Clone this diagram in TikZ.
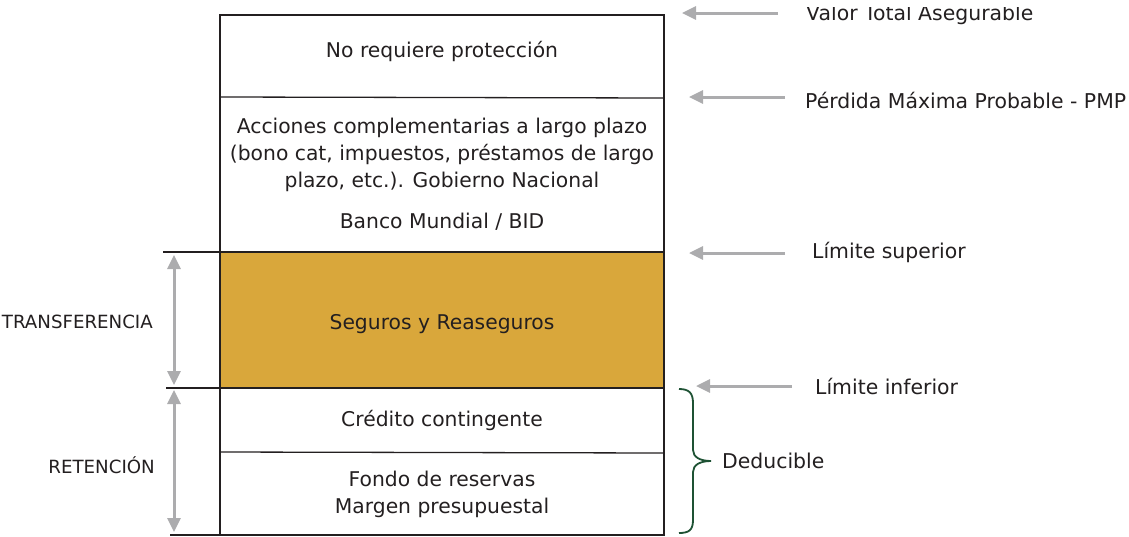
\documentclass[tikz,border=0pt]{standalone}
\usepackage{fontspec}
\setmainfont{DejaVu Sans}
\usetikzlibrary{arrows.meta}
\definecolor{oro}{RGB}{217,167,59}
\definecolor{gris}{RGB}{172,172,174}
\definecolor{verde}{RGB}{30,82,52}
\definecolor{tinta}{RGB}{35,31,32}
\begin{document}
\begin{tikzpicture}[x=1pt,y=-1pt,
    txt/.style={font=\fontsize{20.3}{27}\selectfont,text=tinta,align=center,inner sep=0pt},
    lado/.style={font=\fontsize{18.2}{20}\selectfont,text=tinta,anchor=east,inner sep=0pt},
    etiq/.style={font=\fontsize{20.4}{24}\selectfont,text=tinta,anchor=base west,inner sep=0pt},
    borde/.style={tinta,line width=1.3pt},
    flecha/.style={gris,line width=3pt,-{Triangle[length=14pt,width=13pt]}},
    doble/.style={gris,line width=3pt,{Triangle[length=14pt,width=13pt]}-{Triangle[length=14pt,width=13pt]}}]
    \useasboundingbox (0,0) rectangle (1129,536);
    \fill[oro] (220,252) rectangle (664,388);
    \draw[borde] (220,15) rectangle (664,535);
    \draw[borde] (220,97) -- (664,98);
    \draw[borde] (163,252) -- (664,252);
    \draw[borde] (166,388) -- (664,388);
    \draw[borde] (220,452) -- (664,453);
    \draw[borde] (170,535) -- (220,535);
    \node[txt] (nrp) at (442,51) {No requiere protección};
    \node[txt] (acc) at (442,155) {Acciones complementarias a largo plazo\\(bono cat, impuestos, préstamos de largo\\plazo, etc.). Gobierno Nacional};
    \node[txt] (bm) at (442,222) {Banco Mundial / BID};
    \node[txt] (syr) at (442,324) {Seguros y Reaseguros};
    \node[txt] (cc) at (442,420) {Crédito contingente};
    \node[txt] (fr) at (442,494) {Fondo de reservas\\Margen presupuestal};
    \node[lado] (tra) at (153,322) {TRANSFERENCIA};
    \node[lado] (ret) at (155,465) {RETENCIÓN};
    \coordinate (ta) at (174,255);
    \coordinate (tb) at (174,385);
    \coordinate (ra) at (174,390);
    \coordinate (rb) at (174,532);
    \draw[doble] (ta) -- (tb);
    \draw[doble] (ra) -- (rb);
    \begin{scope}
        \clip (700,7) rectangle (1129,40);
        \node[etiq] (vta) at (806,20) {Valor Total Asegurable};
    \end{scope}
    \node[etiq] (pmp) at (805,108) {Pérdida Máxima Probable - PMP};
    \node[etiq] (ls) at (812,258) {Límite superior};
    \node[etiq] (li) at (815,394) {Límite inferior};
    \coordinate (v1) at (682,13);
    \coordinate (p1) at (689,97);
    \coordinate (s1) at (689,253);
    \coordinate (i1) at (696,386);
    \draw[flecha] (vta.west |- v1) ++(-28,0) -- (v1);
    \draw[flecha] (pmp.west |- p1) ++(-20,0) -- (p1);
    \draw[flecha] (ls.west |- s1) ++(-27,0) -- (s1);
    \draw[flecha] (li.west |- i1) ++(-23,0) -- (i1);
    \draw[verde,line width=1.8pt] (679,389) .. controls (689,389) and (693,393) .. (693,403)
        -- (693,450) .. controls (693,457) and (700,461) .. (711,461)
        .. controls (700,461) and (693,465) .. (693,472)
        -- (693,520) .. controls (693,530) and (689,533) .. (679,533);
    \node[etiq] (ded) at (722,468) {Deducible};
\end{tikzpicture}
\end{document}
